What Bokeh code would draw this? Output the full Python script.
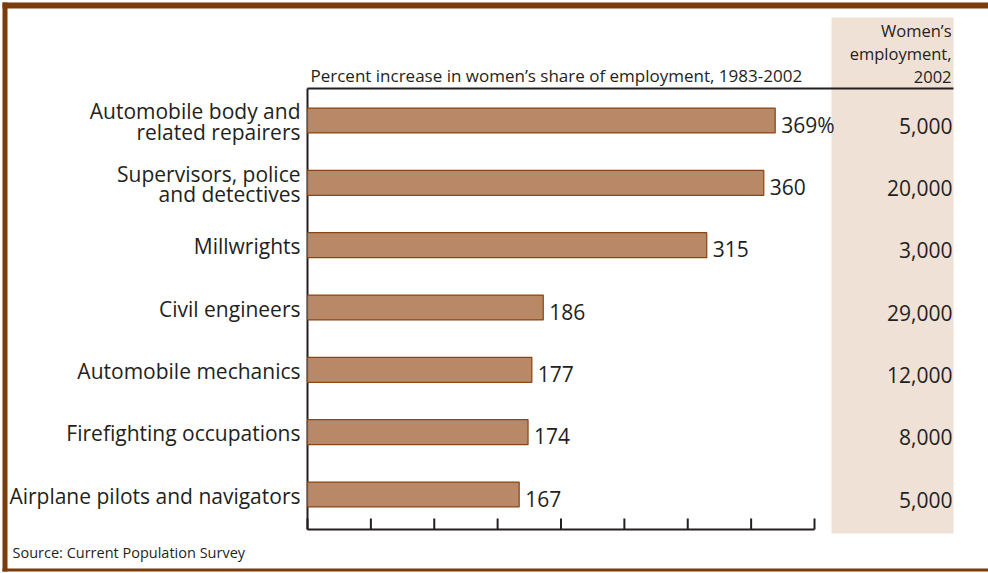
from bokeh.plotting import figure
from bokeh.models import ColumnDataSource, Range1d
from bokeh.core.properties import value
from bokeh.embed import file_html
from bokeh.resources import INLINE

# ---------------- data ----------------
categories = [
    "Automobile body and\nrelated repairers",
    "Supervisors, police\nand detectives",
    "Millwrights",
    "Civil engineers",
    "Automobile mechanics",
    "Firefighting occupations",
    "Airplane pilots and navigators",
]
pct_increase = [369, 360, 315, 186, 177, 174, 167]
women_employment = [5000, 20000, 3000, 29000, 12000, 8000, 5000]
x_ticks = [0, 50, 100, 150, 200, 250, 300, 350, 400]

title_text = "Percent increase in women\u2019s share of employment, 1983-2002"
header_text = "Women\u2019s\nemployment,\n2002"
source_text = "Source: Current Population Survey"

# ---------------- styling / layout ----------------
FONT = value("Open Sans")
TXT = "#231F20"
BAR_FILL = "#B98866"
BAR_LINE = "#8A4512"
FRAME = "#7A3C0A"
SHADE = "#EFE1D5"

W, H = 988, 573
FL, FR, FT, FB = 307, 953, 88, 529      # chart frame edges (pixels)
X_AXIS_END = 814                        # pixel of the last tick
ROW_TOP, ROW_BOT = 120, 494             # pixel centres of first/last bar

n = len(categories)
xmax = x_ticks[-1]
pxu = (X_AXIS_END - FL) / xmax
row = (ROW_BOT - ROW_TOP) / (n - 1)

def dx(px):
    return (px - FL) / pxu

def dy(py):
    return (py - ROW_TOP) / row

ys = list(range(n))
src = ColumnDataSource(dict(
    y=ys,
    val=pct_increase,
    cat=categories,
    vlab=[f"{v}%" if i == 0 else str(v) for i, v in enumerate(pct_increase)],
    emp=[f"{e:,}" for e in women_employment],
    ex=[dx(FR - 1)] * n,
    zero=[0] * n,
))

p = figure(width=W, height=H, output_backend="svg", toolbar_location=None,
           x_range=Range1d(dx(0), dx(W)), y_range=Range1d(dy(H), dy(0)),
           min_border=0, x_axis_type=None, y_axis_type=None)
p.outline_line_color = None
p.grid.visible = False
p.background_fill_color = "white"
p.border_fill_color = "white"

# shaded column behind the employment numbers
p.quad(left=dx(831), right=dx(FR), top=dy(17), bottom=dy(533),
       fill_color=SHADE, line_color=None)

# axis lines and inward ticks
p.segment(x0=[0, 0, 0], x1=[xmax, 0, dx(FR)], y0=[dy(FB), dy(FT), dy(FT)],
          y1=[dy(FB), dy(FB), dy(FT)], line_color=TXT, line_width=2)
p.segment(x0=x_ticks, x1=x_ticks, y0=[dy(FB)] * len(x_ticks),
          y1=[dy(FB - 11)] * len(x_ticks), line_color=TXT, line_width=2)

# bars
p.hbar(y="y", left="zero", right="val", height=0.4, source=src,
       fill_color=BAR_FILL, line_color=BAR_LINE, line_width=1.2)

# value labels
p.text(x="val", y="y", text="vlab", source=src, x_offset=6, y_offset=4,
       text_font=FONT, text_font_size="21px", text_color=TXT,
       text_baseline="middle", text_align="left")

# category labels
p.text(x="zero", y="y", text="cat", source=src, x_offset=-7, y_offset=1,
       text_font=FONT, text_font_size="21px", text_color=TXT,
       text_baseline="middle", text_align="right", text_line_height=0.72)

# employment values
p.text(x="ex", y="y", text="emp", source=src, y_offset=5,
       text_font=FONT, text_font_size="21px", text_color=TXT,
       text_baseline="middle", text_align="right")

# header of the right column
p.text(x=[dx(FR - 2)], y=[dy(53)], text=[header_text], text_font=FONT,
       text_font_size="16.5px", text_color=TXT, text_baseline="middle",
       text_align="right", text_line_height=1.0)

# chart title
p.text(x=[dx(310)], y=[dy(75)], text=[title_text], text_font=FONT,
       text_font_size="17px", text_color=TXT, text_baseline="middle",
       text_align="left")

# source
p.text(x=[dx(12)], y=[dy(552)], text=[source_text], text_font=FONT,
       text_font_size="14.5px", text_color=TXT, text_baseline="middle",
       text_align="left")

# brown frame (left, top, bottom)
p.quad(left=[dx(2), dx(2), dx(2)], right=[dx(7), dx(W), dx(W)],
       top=[dy(2), dy(2), dy(568)], bottom=[dy(571), dy(8), dy(571)],
       fill_color=FRAME, line_color=None)

open("out.html", "w").write(file_html(p, INLINE))
